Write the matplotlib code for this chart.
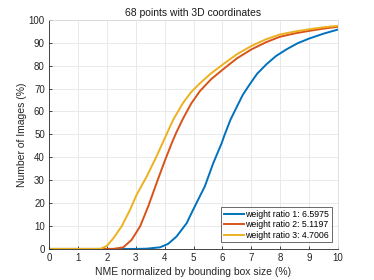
import numpy as np
import matplotlib
matplotlib.use("Agg")
import matplotlib.pyplot as plt

# curves (NME %, cumulative % of images)
x1 = [0, 3.0, 3.38, 3.84, 4.12, 4.41, 4.76, 5.04, 5.39, 5.68, 5.97, 6.08, 6.28, 6.48, 6.7, 6.94, 7.2, 7.52, 7.85, 8.21, 8.6, 9.01, 9.5, 10]
y1 = [0, 0, 0.1, 0.7, 2.2, 5.4, 11.2, 18.5, 27.3, 37.4, 46.1, 50, 56.5, 61.6, 67.2, 71.8, 76.5, 80.6, 84.2, 87.1, 89.8, 91.9, 94.0, 95.8]
x2 = [0, 2.23, 2.57, 2.86, 3.15, 3.43, 3.72, 4.01, 4.24, 4.41, 4.64, 4.92, 5.22, 5.6, 6.02, 6.5, 7.0, 7.5, 7.98, 8.5, 9.0, 9.5, 10]
y2 = [0, 0, 0.7, 4, 9.8, 18.5, 28.7, 38.6, 46, 51, 57, 63.5, 68.9, 74.0, 78.4, 83.2, 87.1, 90.2, 92.6, 94.1, 95.2, 96.2, 97.0]
x3 = [0, 1.77, 2.0, 2.23, 2.52, 2.80, 3.03, 3.38, 3.72, 4.01, 4.30, 4.64, 4.92, 5.22, 5.6, 6.02, 6.5, 7.0, 7.5, 7.98, 8.5, 9.0, 9.5, 10]
y3 = [0, 0, 1.3, 4.7, 10, 17, 23.6, 31.6, 40.4, 48.5, 56.5, 63.8, 68.5, 72.3, 76.6, 80.6, 85.0, 88.6, 91.5, 93.6, 94.9, 95.9, 96.8, 97.4]
labels = ["weight ratio 1: 6.5975", "weight ratio 2: 5.1197", "weight ratio 3: 4.7006"]
colors = ["#0072BD", "#D95319", "#EDB120"]

plt.rcParams['font.family'] = ['Liberation Sans', 'DejaVu Sans']

fig = plt.figure(figsize=(3.74, 2.8), dpi=100)
ax = fig.add_axes([0.131, 0.111, 0.773, 0.818])

for xs, ys, lab, c in zip([x1, x2, x3], [y1, y2, y3], labels, colors):
    ax.plot(xs, ys, color=c, lw=1.4, label=lab)

ax.set_xlim(0, 10)
ax.set_ylim(0, 100)
ax.set_xticks(np.arange(0, 11, 1))
ax.set_yticks(np.arange(0, 101, 10))
ax.grid(True, color="#e6e6e6", lw=0.6)
ax.set_axisbelow(True)
for s in ["left", "bottom"]:
    ax.spines[s].set_color("#262626")
    ax.spines[s].set_linewidth(0.6)
for s in ["top", "right"]:
    ax.spines[s].set_color("#d9d9d9")
    ax.spines[s].set_linewidth(0.6)
ax.tick_params(labelsize=7, colors="#262626", length=2.5, width=0.6, direction="in", pad=3)

ax.set_title("68 points with 3D coordinates", fontsize=7.5, color="#1a1a1a", pad=2.5)
ax.set_xlabel("NME normalized by bounding box size (%)", fontsize=7.5, color="#262626", labelpad=3)
ax.set_ylabel("Number of Images (%)", fontsize=7.5, color="#262626", labelpad=1)

leg = ax.legend(loc="lower right", fontsize=6.3, handlelength=2.3, frameon=True,
                fancybox=False, borderpad=0.3, labelspacing=0.15, handletextpad=0.15,
                borderaxespad=0.75)
leg.get_frame().set_edgecolor("#262626")
leg.get_frame().set_linewidth(0.6)

fig.savefig("out.png", dpi=100)
